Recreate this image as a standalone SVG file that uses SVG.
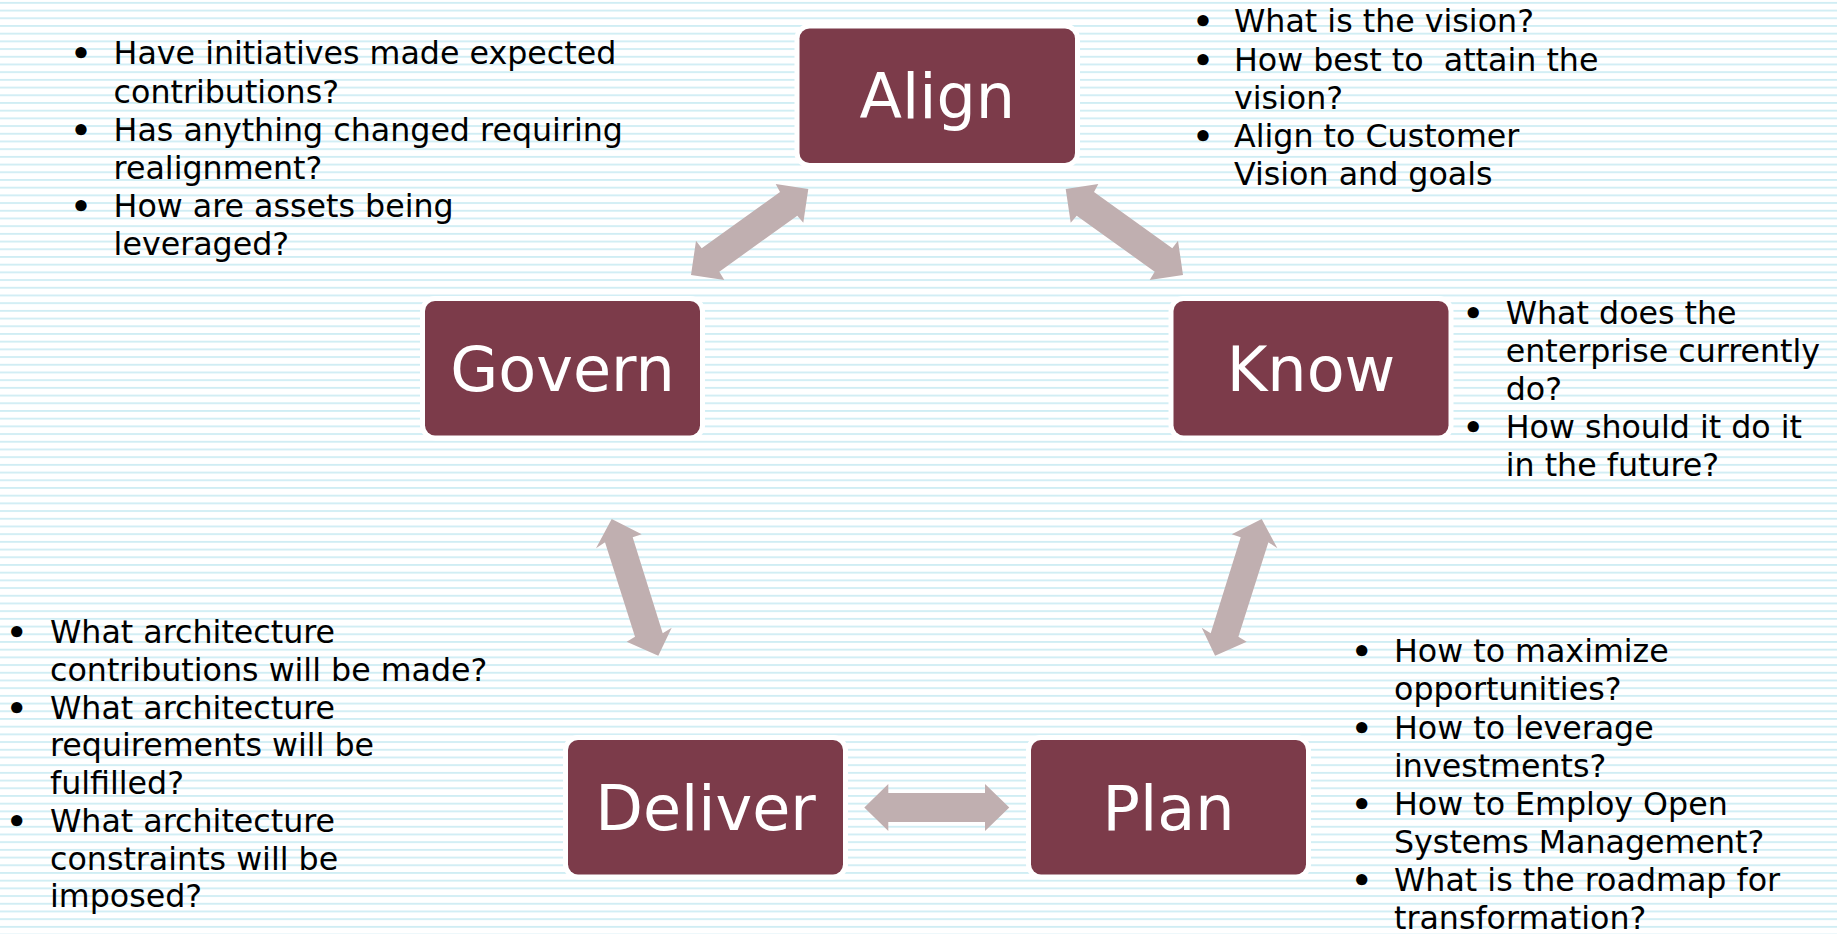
<svg xmlns="http://www.w3.org/2000/svg" width="1837" height="934" viewBox="0 0 1837 934">
<defs>
<pattern id="bg" x="0" y="0" width="40" height="7.7" patternUnits="userSpaceOnUse">
<rect x="0" y="2" width="40" height="1.7" fill="#cdecf4"/>
</pattern>
<style>
.halo{fill:#ffffff}
.box{fill:#7c3b4a}
.lbl{font-family:"DejaVu Sans",Verdana,sans-serif;font-size:62px;fill:#ffffff;text-anchor:middle}
.q{font-family:"DejaVu Sans",Verdana,sans-serif;font-size:31.7px;fill:#000000;white-space:pre}
.b{font-family:"DejaVu Sans",Verdana,sans-serif;font-size:32px;font-weight:bold;fill:#000000;text-anchor:middle}
.arr{fill:#c0afb0}
</style>
</defs>
<rect width="1837" height="934" fill="#ffffff"/>
<rect width="1837" height="934" fill="url(#bg)"/>

<g id="connectors">
<polygon class="arr" points="808.3,189 775.7,184 780,192 701.7,248.3 696,240.7 691,275 724.3,280 719.3,271.7 797.3,215.7 803.3,222.7"/>
<polygon class="arr" points="1065.7,189 1098.3,184 1094,192 1172.3,248.3 1178,240.7 1183,275 1149.7,280 1154.7,271.7 1076.7,215.7 1070.7,222.7"/>
<polygon class="arr" points="611.7,519 641.7,534.3 632.7,537.3 662.7,633.3 671.7,627.7 658.3,655.7 626.7,641.7 635,636.7 605,542.3 596,548.3"/>
<polygon class="arr" points="1261.7,519 1231.7,534.3 1240.7,537.3 1210.7,633.3 1201.7,627.7 1215.1,655.7 1246.7,641.7 1238.4,636.7 1268.4,542.3 1277.4,548.3"/>
<polygon class="arr" points="864.3,807.5 888.3,784 888.3,793 985,793 985,784 1009.3,807.5 985,831 985,822 888.3,822 888.3,831"/>
</g>

<g id="node-align">
<rect class="halo" x="794.5" y="23.5" width="285.5" height="144.5" rx="15"/>
<rect class="box" x="799.5" y="28.5" width="275.5" height="134.5" rx="10"/>
<text class="lbl" x="937.3" y="118.3">Align</text>
</g>
<g id="node-govern">
<rect class="halo" x="420" y="296" width="285" height="144.5" rx="15"/>
<rect class="box" x="425" y="301" width="275" height="134.5" rx="10"/>
<text class="lbl" x="562.5" y="390.8">Govern</text>
</g>
<g id="node-know">
<rect class="halo" x="1168.5" y="296" width="285" height="144.5" rx="15"/>
<rect class="box" x="1173.5" y="301" width="275" height="134.5" rx="10"/>
<text class="lbl" x="1311" y="390.8">Know</text>
</g>
<g id="node-deliver">
<rect class="halo" x="563" y="735" width="285" height="144.5" rx="15"/>
<rect class="box" x="568" y="740" width="275" height="134.5" rx="10"/>
<text class="lbl" x="705.5" y="829.8">Deliver</text>
</g>
<g id="node-plan">
<rect class="halo" x="1026" y="735" width="285" height="144.5" rx="15"/>
<rect class="box" x="1031" y="740" width="275" height="134.5" rx="10"/>
<text class="lbl" x="1168.5" y="829.8">Plan</text>
</g>

<g id="notes-govern">
<text class="b" x="81" y="65.3">•</text>
<text class="b" x="81" y="141.7">•</text>
<text class="b" x="81" y="218.1">•</text>
<text class="q" x="113.6" y="64.3">Have initiatives made expected</text>
<text class="q" x="113.6" y="102.5">contributions?</text>
<text class="q" x="113.6" y="140.7">Has anything changed requiring</text>
<text class="q" x="113.6" y="178.9">realignment?</text>
<text class="q" x="113.6" y="217.1">How are assets being</text>
<text class="q" x="113.6" y="255.3">leveraged?</text>
</g>

<g id="notes-align">
<text class="b" x="1203" y="33.3">•</text>
<text class="b" x="1203" y="71.5">•</text>
<text class="b" x="1203" y="147.9">•</text>
<text class="q" x="1234" y="32.3">What is the vision?</text>
<text class="q" x="1234" y="70.5">How best to  attain the</text>
<text class="q" x="1234" y="108.7">vision?</text>
<text class="q" x="1234" y="146.9">Align to Customer</text>
<text class="q" x="1234" y="185.1">Vision and goals</text>
</g>

<g id="notes-know">
<text class="b" x="1473.3" y="325.3">•</text>
<text class="b" x="1473.3" y="439.3">•</text>
<text class="q" x="1505.7" y="324.3">What does the</text>
<text class="q" x="1505.7" y="362.3">enterprise currently</text>
<text class="q" x="1505.7" y="400.3">do?</text>
<text class="q" x="1505.7" y="438.3">How should it do it</text>
<text class="q" x="1505.7" y="476.3">in the future?</text>
</g>

<g id="notes-plan">
<text class="b" x="1361.7" y="663.3">•</text>
<text class="b" x="1361.7" y="739.5">•</text>
<text class="b" x="1361.7" y="815.7">•</text>
<text class="b" x="1361.7" y="891.9">•</text>
<text class="q" x="1394" y="662.3">How to maximize</text>
<text class="q" x="1394" y="700.4">opportunities?</text>
<text class="q" x="1394" y="738.5">How to leverage</text>
<text class="q" x="1394" y="776.6">investments?</text>
<text class="q" x="1394" y="814.7">How to Employ Open</text>
<text class="q" x="1394" y="852.8">Systems Management?</text>
<text class="q" x="1394" y="890.9">What is the roadmap for</text>
<text class="q" x="1394" y="929">transformation?</text>
</g>

<g id="notes-deliver">
<text class="b" x="16.7" y="644.3">•</text>
<text class="b" x="16.7" y="719.7">•</text>
<text class="b" x="16.7" y="832.8">•</text>
<text class="q" x="50" y="643.3">What architecture</text>
<text class="q" x="50" y="681">contributions will be made?</text>
<text class="q" x="50" y="718.7">What architecture</text>
<text class="q" x="50" y="756.4">requirements will be</text>
<text class="q" x="50" y="794.1">fulfilled?</text>
<text class="q" x="50" y="831.8">What architecture</text>
<text class="q" x="50" y="869.5">constraints will be</text>
<text class="q" x="50" y="907.2">imposed?</text>
</g>
</svg>
